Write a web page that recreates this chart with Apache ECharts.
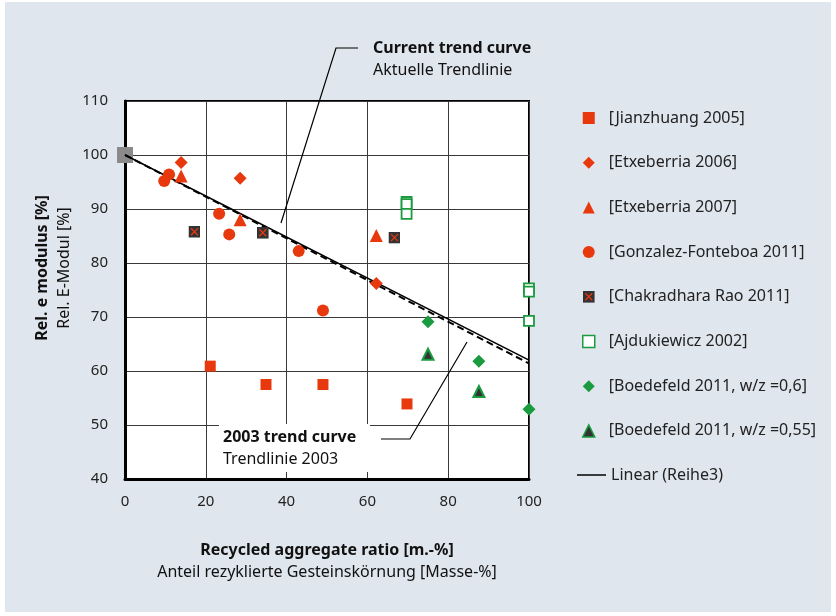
<!DOCTYPE html>
<html>
<head>
<meta charset="utf-8">
<script src="https://cdn.jsdelivr.net/npm/echarts@6/dist/echarts.min.js"></script>
<style>html,body{margin:0;padding:0;background:#fff}#c{width:836px;height:616px}</style>
</head>
<body>
<div id="c"></div>
<script>
// ---- data ----
const xTicks = [0, 20, 40, 60, 80, 100];
const yTicks = [40, 50, 60, 70, 80, 90, 100, 110];
const jianzhuang = [[21.1, 60.9], [34.9, 57.5], [49, 57.5], [69.8, 53.9]];
const etxeberria2006 = [[13.9, 98.6], [28.5, 95.7], [62.2, 76.2]];
const etxeberria2007 = [[13.9, 96.1], [28.5, 88.0], [62.2, 85.1]];
const gonzalez = [[9.7, 95.2], [10.9, 96.4], [23.3, 89.1], [25.8, 85.3], [43, 82.2], [49, 71.2]];
const chakradhara = [[17.2, 85.8], [34.1, 85.6], [66.7, 84.7]];
const ajdukiewicz = [[69.7, 91.3], [69.7, 90.9], [69.7, 89.1], [100, 75.3], [100, 74.7], [100, 69.3]];
const boedefeld06 = [[75, 69.1], [87.6, 61.8], [100, 52.9]];
const boedefeld055 = [[75, 63.1], [87.6, 56.2]];
const referencePoint = [[0, 100]];
const linearTrend = [[0, 100], [100, 62.0]];
const trend2003 = [[0, 100], [100, 61.4]];
const seriesNames = ['[Jianzhuang 2005]', '[Etxeberria 2006]', '[Etxeberria 2007]', '[Gonzalez-Fonteboa 2011]',
  '[Chakradhara Rao 2011]', '[Ajdukiewicz 2002]', '[Boedefeld 2011, w/z =0,6]', '[Boedefeld 2011, w/z =0,55]'];
const lineName = 'Linear (Reihe3)';

const RED = '#e8380d', GREEN = '#1a9b3f', DARK = '#333333';
const FONT = 'Noto Sans';
const xSvg = "<svg xmlns='http://www.w3.org/2000/svg' width='24' height='24'><rect width='24' height='24' fill='#333'/><path d='M5 5L19 19M19 5L5 19' stroke='#e8380d' stroke-width='2.6'/></svg>";
const xSymbol = 'image://data:image/svg+xml;charset=utf-8,' + encodeURIComponent(xSvg);

const chart = echarts.init(document.getElementById('c'), null, {renderer: 'canvas'});
const sc = (name, data, symbol, size, style) => ({
  name, type: 'scatter', data, symbol, symbolSize: size,
  itemStyle: Object.assign({opacity: 1}, style), emphasis: {disabled: true}, z: 5
});
chart.setOption({
  backgroundColor: '#ffffff',
  animation: false,
  textStyle: {fontFamily: FONT},
  grid: {left: 125, top: 101, width: 404, height: 378, show: true, backgroundColor: '#fff', borderColor: '#000', borderWidth: 2},
  xAxis: {
    type: 'value', min: xTicks[0], max: xTicks[xTicks.length - 1], interval: 20,
    axisLine: {show: true, lineStyle: {color: '#000', width: 3}},
    axisTick: {show: false},
    splitLine: {show: true, lineStyle: {color: '#3a3a3a', width: 1}},
    axisLabel: {color: '#222', fontSize: 15, margin: 15, fontFamily: FONT},
    name: '{b|Recycled aggregate ratio [m.-%]}\n{r|Anteil rezyklierte Gesteinskörnung [Masse-%]}',
    nameLocation: 'middle', nameGap: 60,
    nameTextStyle: {rich: {
      b: {fontSize: 16, fontWeight: 'bold', color: '#111', fontFamily: FONT, lineHeight: 22},
      r: {fontSize: 16, color: '#111', fontFamily: FONT, lineHeight: 22}
    }}
  },
  yAxis: {
    type: 'value', min: yTicks[0], max: yTicks[yTicks.length - 1], interval: 10,
    axisLine: {show: true, lineStyle: {color: '#000', width: 3}},
    axisTick: {show: false},
    splitLine: {show: true, lineStyle: {color: '#3a3a3a', width: 1}},
    axisLabel: {color: '#222', fontSize: 15, margin: 17, fontFamily: FONT}
  },
  legend: [{
    orient: 'vertical', left: 582, top: 110, padding: 0, itemWidth: 12, itemHeight: 12, itemGap: 28.7,
    data: seriesNames.map((n, i) => (i === 5 || i === 7) ? {name: n, itemStyle: {borderWidth: 1.5}} : {name: n}),
    textStyle: {fontSize: 16, color: '#222', padding: [0, 0, 0, 9], fontFamily: FONT}
  }, {
    orient: 'vertical', left: 577, top: 467, padding: 0, itemWidth: 29, itemHeight: 1.5,
    data: [{name: lineName, icon: 'rect'}],
    textStyle: {fontSize: 16, color: '#222', fontFamily: FONT}
  }],
  series: [
    sc(seriesNames[0], jianzhuang, 'rect', 11, {color: RED}),
    sc(seriesNames[1], etxeberria2006, 'diamond', 13, {color: RED}),
    sc(seriesNames[2], etxeberria2007, 'triangle', 13, {color: RED}),
    sc(seriesNames[3], gonzalez, 'circle', 12, {color: RED}),
    sc(seriesNames[4], chakradhara, xSymbol, 12, {color: DARK}),
    sc(seriesNames[5], ajdukiewicz, 'rect', 10, {color: '#fff', borderColor: GREEN, borderWidth: 1.8}),
    sc(seriesNames[6], boedefeld06, 'diamond', 13, {color: GREEN}),
    sc(seriesNames[7], boedefeld055, 'triangle', 11, {color: DARK, borderColor: GREEN, borderWidth: 2}),
    {name: 'ref', type: 'scatter', data: referencePoint, symbol: 'rect', symbolSize: 16, itemStyle: {color: '#8a8a8a', opacity: 1}, z: 3},
    {name: lineName, type: 'line', data: linearTrend, showSymbol: false, symbol: 'none',
      itemStyle: {color: '#000'}, lineStyle: {color: '#000', width: 1.5}, z: 4},
    {name: 'trend2003', type: 'line', data: trend2003, showSymbol: false, symbol: 'none',
      itemStyle: {color: '#000'}, lineStyle: {color: '#000', width: 2, type: [7, 4]}, z: 4}
  ],
  graphic: [
    {type: 'rect', z: -10, shape: {x: 5, y: 2, width: 826, height: 610}, style: {fill: '#e0e6ed'}},
    {type: 'rect', z: 1, shape: {x: 219, y: 424, width: 151, height: 48}, style: {fill: '#fff'}},
    {type: 'polyline', z: 10, shape: {points: [[358, 48], [336, 48], [281, 223]]}, style: {stroke: '#000', lineWidth: 1.2, fill: null}},
    {type: 'polyline', z: 10, shape: {points: [[381, 439], [410, 439], [467, 342]]}, style: {stroke: '#000', lineWidth: 1.2, fill: null}},
    {type: 'text', z: 10, x: 373, y: 48, style: {text: 'Current trend curve', font: 'bold 16px "Noto Sans"', fill: '#111', verticalAlign: 'middle'}},
    {type: 'text', z: 10, x: 373, y: 70, style: {text: 'Aktuelle Trendlinie', font: '16px "Noto Sans"', fill: '#111', verticalAlign: 'middle'}},
    {type: 'text', z: 10, x: 223, y: 437, style: {text: '2003 trend curve', font: 'bold 16px "Noto Sans"', fill: '#111', verticalAlign: 'middle'}},
    {type: 'text', z: 10, x: 223, y: 459, style: {text: 'Trendlinie 2003', font: '16px "Noto Sans"', fill: '#111', verticalAlign: 'middle'}},
    {type: 'text', z: 10, x: 42, y: 268, rotation: Math.PI / 2, style: {text: 'Rel. e modulus [%]', font: 'bold 16px "Noto Sans"', fill: '#111', align: 'center', verticalAlign: 'middle'}},
    {type: 'text', z: 10, x: 64, y: 268, rotation: Math.PI / 2, style: {text: 'Rel. E-Modul [%]', font: '16px "Noto Sans"', fill: '#111', align: 'center', verticalAlign: 'middle'}}
  ]
});
</script>
</body>
</html>
